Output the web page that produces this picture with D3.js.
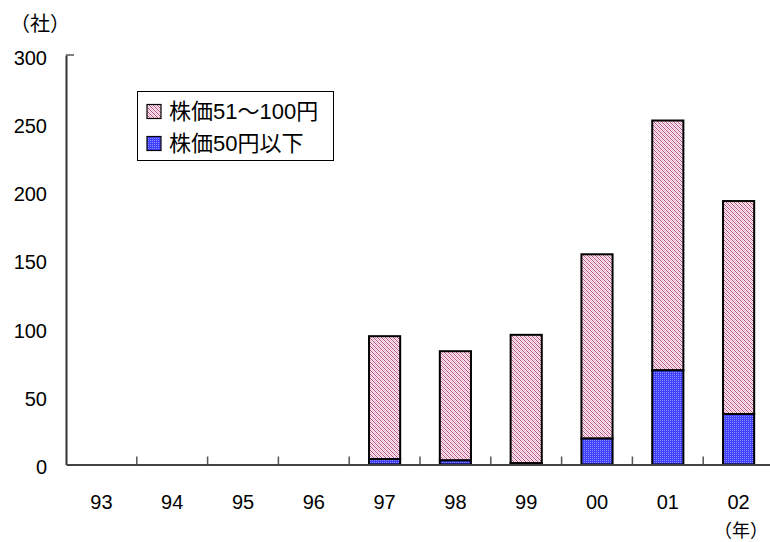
<!DOCTYPE html>
<html><head><meta charset="utf-8">
<script src="https://cdn.jsdelivr.net/npm/d3@7"></script>
<style>body{margin:0;background:#fff;} text{font-family:"Liberation Sans","Noto Sans CJK JP",sans-serif;}</style>
</head><body>
<svg id="c" width="770" height="542"></svg>
<script>
const years = ["93","94","95","96","97","98","99","00","01","02"];
const low = [0,0,0,0,4,3,1,19,69,37];          // 株価50円以下
const mid = [0,0,0,0,90,80,94,135,183,156];    // 株価51～100円
const yTicks = [0,50,100,150,200,250,300];
const legendLabels = ["株価51～100円","株価50円以下"];

const svg = d3.select("#c");
const defs = svg.append("defs");
const pp = defs.append("pattern").attr("id","pink").attr("patternUnits","userSpaceOnUse").attr("width",4).attr("height",4);
pp.append("rect").attr("width",4).attr("height",4).attr("fill","#fcf0f6");
[[0,0],[1,1],[2,2],[3,3]].forEach(([x,y])=>pp.append("rect").attr("x",x).attr("y",y).attr("width",1).attr("height",1).attr("fill","#b8507f"));
[[2,0],[3,1],[0,2],[1,3]].forEach(([x,y])=>pp.append("rect").attr("x",x).attr("y",y).attr("width",1).attr("height",1).attr("fill","#e8b0ca"));
const bp = defs.append("pattern").attr("id","blue").attr("patternUnits","userSpaceOnUse").attr("width",2).attr("height",2);
bp.append("rect").attr("width",2).attr("height",2).attr("fill","#4040ff");
bp.append("rect").attr("x",0).attr("y",0).attr("width",1).attr("height",1).attr("fill","#8c8cff");

const x = d3.scaleBand().domain(years).range([66,774]).paddingInner(0.56).paddingOuter(0.28);
const xb = d3.scaleBand().domain(years).range([66,774]);
const y = d3.scaleLinear().domain([0,300]).range([464.5,55]);

// axes
const gy = svg.append("g").attr("transform","translate(66,0)")
  .call(d3.axisLeft(y).tickValues(yTicks).tickSize(0).tickPadding(19));
gy.select(".domain").attr("stroke","#333").attr("stroke-width",2);
gy.selectAll("text").attr("font-size",20).attr("fill","#000").attr("dy","0.45em");

// top short tick
svg.append("line").attr("x1",66).attr("x2",74).attr("y1",y(300)).attr("y2",y(300)).attr("stroke","#555").attr("stroke-width",1.5);

// bars
const data = years.map((yr,i)=>({yr, low:low[i], mid:mid[i]}));
const bars = svg.append("g");
data.filter(d=>d.low+d.mid>0).forEach(d=>{
  bars.append("rect").attr("x",x(d.yr)).attr("width",x.bandwidth())
    .attr("y",y(d.low+d.mid)).attr("height",y(d.low)-y(d.low+d.mid))
    .attr("fill","url(#pink)").attr("stroke","#000").attr("stroke-width",2);
  if(d.low>0) bars.append("rect").attr("x",x(d.yr)).attr("width",x.bandwidth())
    .attr("y",y(d.low)).attr("height",y(0)-y(d.low))
    .attr("fill","url(#blue)").attr("stroke","#000").attr("stroke-width",2);
});

const gx = svg.append("g").attr("transform",`translate(0,${y(0)})`)
  .call(d3.axisBottom(xb).tickSize(0).tickPadding(30));
gx.select(".domain").attr("stroke","#444").attr("stroke-width",2);
gx.selectAll("text").attr("font-size",20).attr("fill","#000");
// category separator ticks (inside, upward)
years.slice(1).forEach(yr=>{
  svg.append("line").attr("x1",xb(yr)).attr("x2",xb(yr)).attr("y1",y(0)).attr("y2",y(0)-8).attr("stroke","#555").attr("stroke-width",1.5);
});

// unit labels
svg.append("text").attr("x",10).attr("y",31).attr("font-size",20).text("（社）");
svg.append("text").attr("x",768).attr("y",537).attr("text-anchor","end").attr("font-size",18).text("（年）");

// legend
const lg = svg.append("g");
lg.append("rect").attr("x",137.5).attr("y",91.5).attr("width",196).attr("height",69).attr("fill","#fff").attr("stroke","#000").attr("stroke-width",1);
["pink","blue"].forEach((p,i)=>{
  const cy = 111.5 + i*32;
  lg.append("rect").attr("x",147).attr("y",cy-7).attr("width",14).attr("height",14).attr("fill",`url(#${p})`).attr("stroke","#000").attr("stroke-width",1.2);
  lg.append("text").attr("x",169).attr("y",cy).attr("dy","0.36em").attr("font-size",22).text(legendLabels[i]);
});
</script>
</body></html>
